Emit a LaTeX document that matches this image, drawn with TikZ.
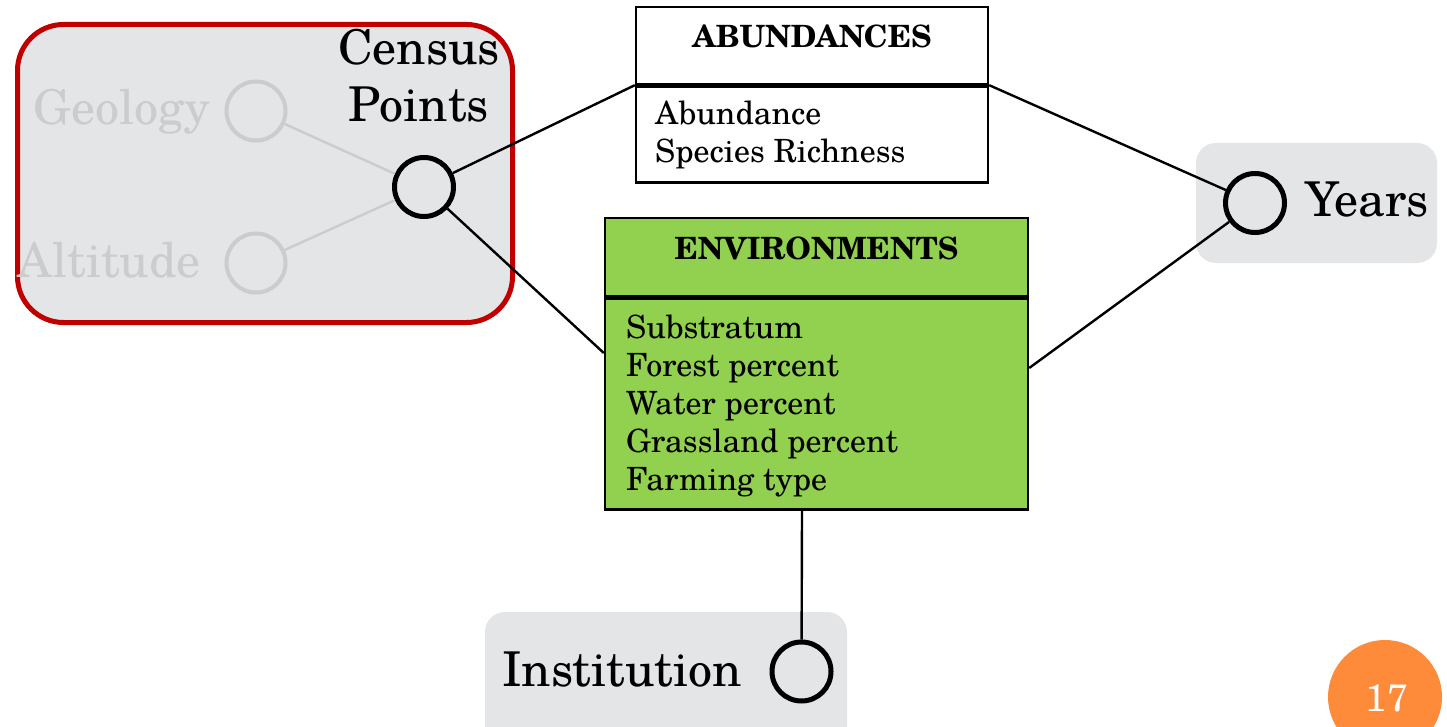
\documentclass[tikz,border=0pt]{standalone}
\usepackage{fontspec}
\setmainfont{TeX Gyre Schola}
\definecolor{panelgrey}{HTML}{E4E5E7}
\definecolor{fadedgrey}{HTML}{CBCCCE}
\definecolor{focusred}{HTML}{C00000}
\definecolor{envgreen}{HTML}{92D050}
\definecolor{badgeorange}{HTML}{FD8B3A}
\begin{document}
\begin{tikzpicture}[x=1pt,y=-1pt,
  panel/.style={fill=panelgrey, draw=none, rounded corners=20pt, inner sep=0pt},
  focus/.style={fill=panelgrey, draw=focusred, line width=5pt, rounded corners=46pt, inner sep=0pt},
  attr/.style={circle, draw=black, line width=5pt, minimum size=59pt, inner sep=0pt},
  fadedattr/.style={attr, draw=fadedgrey, line width=4pt},
  frame/.style={rectangle, draw=black, line width=2.4pt, inner sep=0pt},
  link/.style={draw=black, line width=2.4pt},
  fadedlink/.style={draw=fadedgrey, line width=2.4pt},
  bigtext/.style={inner sep=0pt, font=\fontsize{48}{57}\selectfont},
  headtext/.style={inner sep=0pt, font=\fontsize{30.7}{36}\bfseries\selectfont},
  bodytext/.style={inner sep=0pt, align=left, font=\fontsize{32}{38}\selectfont}]

\clip (0,0) rectangle (1447,727);
\fill[white] (0,0) rectangle (1447,727);

% background panels
\node[focus, minimum width=495pt, minimum height=298pt] (cpanel) at (265,173.5) {};
\node[panel, minimum width=241pt, minimum height=120pt] (ypanel) at (1316.5,203) {};
\node[panel, minimum width=362pt, minimum height=140pt] (ipanel) at (666,682) {};

% faded attributes inside the census-point group
\node[fadedattr] (geo) at (256,111) {};
\node[fadedattr] (alt) at (256,263) {};
\node[bigtext, text=fadedgrey, anchor=base east] (geot) at (210,125) {Geology};
\node[bigtext, text=fadedgrey, anchor=base east] (altt) at (201,277) {Altitude};

% main attributes
\node[attr] (cp) at (424,187) {};
\node[attr] (yr) at (1255,203) {};
\node[attr] (inst) at (801.5,671.5) {};

% multi-line nodes: the base anchor sits on the last line
\node[bigtext, align=center, anchor=base] (cpt) at (419,122) {Census\\Points};
\node[bigtext, anchor=base west] (yrt) at (1305,217) {Years};
\node[bigtext, anchor=base east] (instt) at (742,686) {Institution};

% ABUNDANCES table
\node[frame, fill=white, minimum width=352pt, minimum height=77pt] (abh) at (812,45.5) {};
\node[frame, fill=white, minimum width=352pt, minimum height=96pt, anchor=north] (abb) at (abh.south) {};
\node[headtext, anchor=base] (abt) at (abh.center |- 0,48) {ABUNDANCES};
\node[bodytext, anchor=base west] (abl) at (655,163) {Abundance\\Species Richness};

% ENVIRONMENTS table
\node[frame, fill=envgreen, minimum width=423pt, minimum height=78pt] (envh) at (816.5,257) {};
\node[frame, fill=envgreen, minimum width=423pt, minimum height=211pt, anchor=north] (envb) at (envh.south) {};
\node[headtext, anchor=base] (envt) at (envh.center |- 0,259) {ENVIRONMENTS};
\node[bodytext, anchor=base west] (envl) at (626,490) {Substratum\\Forest percent\\Water percent\\Grassland percent\\Farming type};

% connector ends on the table edges
\coordinate (envW) at (envb.west |- 0,353);
\coordinate (envE) at (envb.east |- 0,368);
\coordinate (envS) at (802,0 |- envb.south);

% relationships
\draw[fadedlink] (geo) -- (cp);
\draw[fadedlink] (alt) -- (cp);
\draw[link] (cp) -- (abh.south west);
\draw[link] (abh.south east) -- (yr);
\draw[link] (cp) -- (envW);
\draw[link] (envE) -- (yr);
\draw[link] (envS) -- (inst);

% page badge
\node[circle, fill=badgeorange, minimum size=114pt, inner sep=0pt] (badge) at (1385,697) {};
\node[text=white, inner sep=0pt, font=\fontsize{38}{44}\selectfont] (badget) at (1387,698) {17};
\end{tikzpicture}
\end{document}
